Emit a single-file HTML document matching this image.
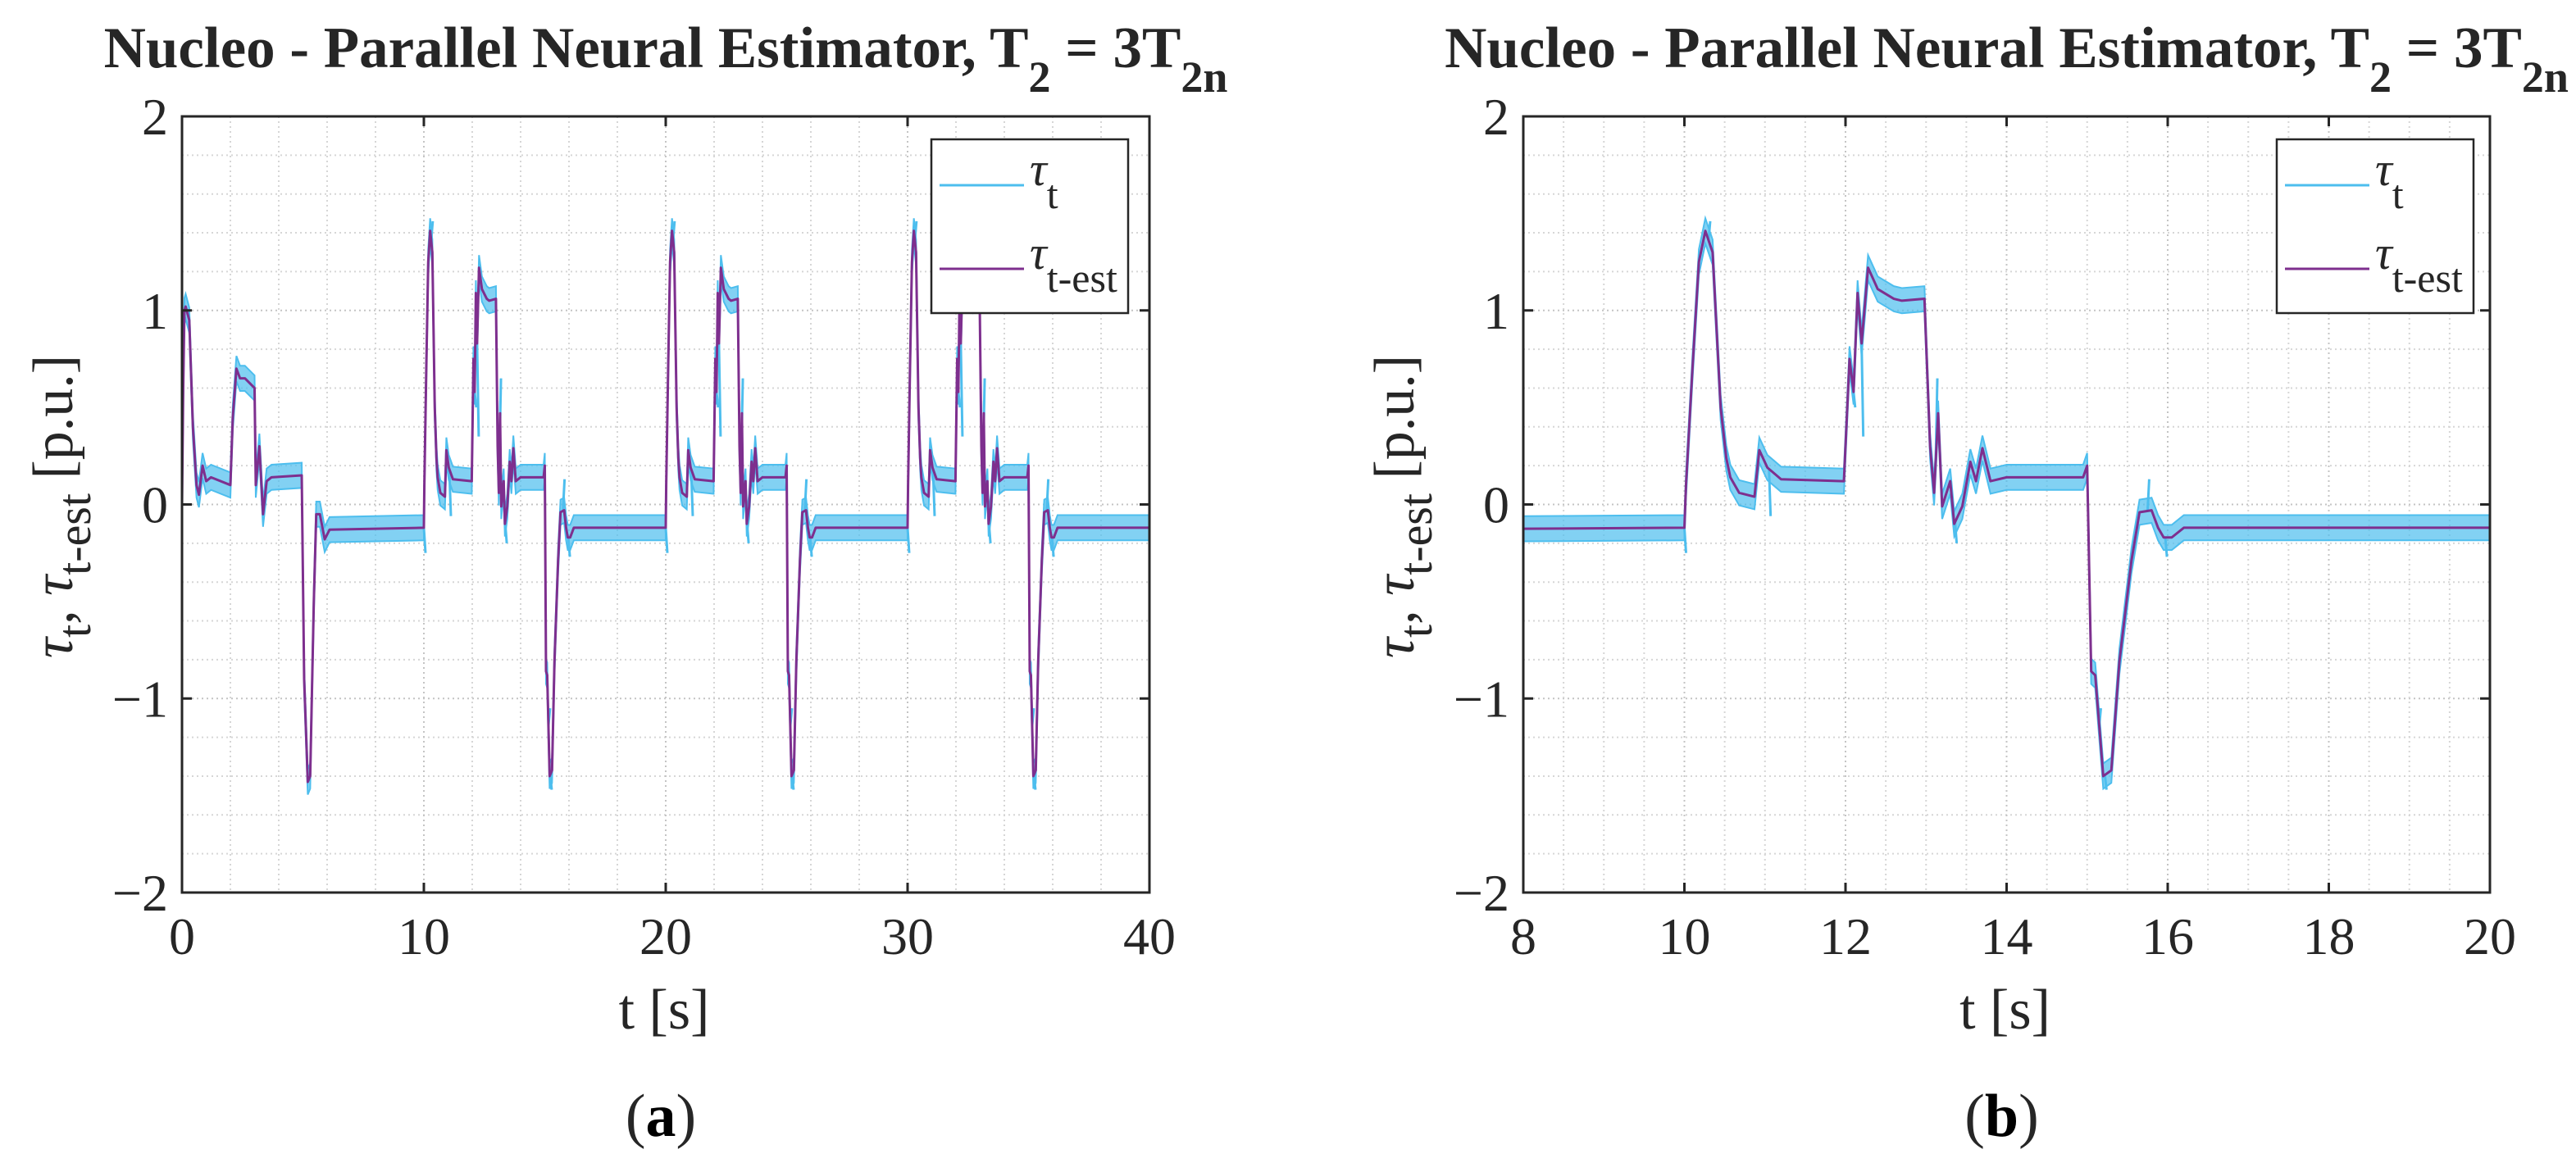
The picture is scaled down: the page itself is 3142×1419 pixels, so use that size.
<!DOCTYPE html>
<html><head><meta charset="utf-8">
<style>
html,body{margin:0;padding:0;background:#fff;}
svg{display:block;}
text{font-family:"Liberation Serif",serif;fill:#262626;}
</style></head>
<body>
<svg id="fig" width="3142" height="1419" viewBox="0 0 3142 1419" xmlns="http://www.w3.org/2000/svg">
<defs>
<clipPath id="clipA"><rect x="222" y="142" width="1180" height="947"/></clipPath>
<clipPath id="clipB"><rect x="1858" y="142" width="1179" height="947"/></clipPath>
</defs>
<g id="panelA"></g>
<g id="panelB"></g>
</svg>
<script>
// ---- data ----
// first cycle (0..10 s)
const firstCycleT = [0,0.05,0.1,0.15,0.3,0.45,0.6,0.7,0.85,1.0,1.2,2.0,2.1,2.25,2.4,2.6,3.0,3.05,3.2,3.35,3.5,3.7,4.95,5.05,5.2,5.3,5.45,5.55,5.7,5.9,6.1,10.0];
const firstCycleV = [0,0.6,1.0,1.02,0.95,0.4,0.1,0.05,0.2,0.12,0.14,0.1,0.45,0.7,0.65,0.65,0.6,0.1,0.3,-0.05,0.12,0.14,0.15,-0.9,-1.43,-1.4,-0.5,-0.05,-0.05,-0.18,-0.13,-0.12];
// repeating cycle offsets (s after cycle start) and estimated torque values
const cycleT = [0,0.02,0.1,0.18,0.26,0.35,0.45,0.52,0.57,0.68,0.87,0.93,1.03,1.2,1.98,2.05,2.1,2.15,2.2,2.28,2.4,2.6,2.7,2.98,3.05,3.1,3.15,3.2,3.3,3.35,3.45,3.55,3.62,3.7,3.8,4.0,4.95,5.0,5.05,5.1,5.2,5.3,5.4,5.55,5.65,5.8,5.88,5.95,6.05,6.2,10.0];
const cycleV = [-0.12,0.1,0.7,1.25,1.41,1.3,0.5,0.24,0.14,0.06,0.04,0.28,0.19,0.13,0.12,0.75,0.58,1.09,0.83,1.22,1.11,1.06,1.05,1.06,0.3,0.06,0.47,-0.01,0.12,-0.1,-0.01,0.22,0.12,0.29,0.12,0.14,0.14,0.2,-0.86,-0.88,-1.4,-1.37,-0.81,-0.29,-0.04,-0.03,-0.12,-0.17,-0.17,-0.12,-0.12];
const cycleStarts = [10,20,30];
// measured torque extra spikes (offset within cycle, value)
const spikeT = [0.0,0.3,1.05,2.1,2.2,3.12,3.36,5.15,5.22,5.75,5.97];
const spikeV = [-0.25,1.46,-0.06,0.5,0.35,0.65,-0.2,-1.05,-1.47,0.13,-0.27];
const noiseAmp = 0.065;
const yTicks = [-2,-1,0,1,2];
const yTickLabels = ["\u22122","\u22121","0","1","2"];
const xTicksA = [0,10,20,30,40];
const xTicksB = [8,10,12,14,16,18,20];

const NS = "http://www.w3.org/2000/svg";
function mk(tag, attrs, parent){const e=document.createElementNS(NS,tag);for(const k in attrs)e.setAttribute(k,attrs[k]);if(parent)parent.appendChild(e);return e;}

const estT=[],estV=[];
firstCycleT.forEach((t,i)=>{estT.push(t);estV.push(firstCycleV[i]);});
cycleStarts.forEach(s=>cycleT.forEach((t,i)=>{estT.push(s+t);estV.push(cycleV[i]);}));
const spT=[],spV=[];
cycleStarts.forEach(s=>spikeT.forEach((t,i)=>{spT.push(s+t);spV.push(spikeV[i]);}));

function interp(t){for(let i=1;i<estT.length;i++){if(t<=estT[i]){const a=estT[i-1],b=estT[i];const f=b>a?(t-a)/(b-a):1;return estV[i-1]+f*(estV[i]-estV[i-1]);}}return estV[estV.length-1];}

function panel(gid, clip, L, T, W, H, xmin, xmax, xTicks, xMinorStep, legX, letter){
  const g=document.getElementById(gid);
  const X=t=>L+(t-xmin)/(xmax-xmin)*W;
  const Y=v=>T+(2-v)/4*H;
  const grid=mk('g',{},g);
  
  
  for(let v=-2;v<=2.0001;v+=0.2){const y=Y(v);mk('line',{x1:L,x2:L+W,y1:y,y2:y,stroke:Math.abs(v-Math.round(v))<1e-6?'#c4c4c4':'#d6d6d6','stroke-width':2,'stroke-dasharray':'2,4'},grid);}
  for(let t=xmin;t<=xmax+1e-6;t+=xMinorStep){const x=X(t);mk('line',{x1:x,x2:x,y1:T,y2:T+H,stroke:xTicks.some(k=>Math.abs(k-t)<1e-6)?'#c4c4c4':'#d6d6d6','stroke-width':2,'stroke-dasharray':'2,4'},grid);}
  const sg=mk('g',{'clip-path':`url(#${clip})`},g);
  const up=[],dn=[];
  estT.forEach((t,i)=>{up.push(X(t)+','+Y(estV[i]+noiseAmp));});
  for(let i=estT.length-1;i>=0;i--)dn.push(X(estT[i])+','+Y(estV[i]-noiseAmp));
  const band=mk('polygon',{points:up.concat(dn).join(' '),fill:'#4DBEEE','fill-opacity':0.7,stroke:'#4DBEEE','stroke-width':2},sg);
  
  
  spT.forEach((t,i)=>{
    const s=mk('line',{x1:X(t),x2:X(t)+2,y1:Y(interp(t)),y2:Y(spV[i]),stroke:'#4DBEEE','stroke-width':3},sg);
    
    
  });
  const est=mk('polyline',{points:estT.map((t,i)=>X(t)+','+Y(estV[i])).join(' '),fill:'none',stroke:'#7E2F8E','stroke-width':3,'stroke-linejoin':'round'},sg);
  
  
  const ax=mk('g',{},g);
  
  
  mk('rect',{x:L,y:T,width:W,height:H,fill:'none',stroke:'#262626','stroke-width':3},ax);
  yTicks.forEach((v,i)=>{const y=Y(v);
    mk('line',{x1:L,x2:L+12,y1:y,y2:y,stroke:'#262626','stroke-width':3},ax);
    mk('line',{x1:L+W-12,x2:L+W,y1:y,y2:y,stroke:'#262626','stroke-width':3},ax);
    const tx=mk('text',{x:L-17,y:y+22,'text-anchor':'end','font-size':64},ax);tx.textContent=yTickLabels[i];
    
    
  });
  xTicks.forEach(t=>{const x=X(t);
    mk('line',{x1:x,x2:x,y1:T+H-12,y2:T+H,stroke:'#262626','stroke-width':3},ax);
    mk('line',{x1:x,x2:x,y1:T,y2:T+12,stroke:'#262626','stroke-width':3},ax);
    const tx=mk('text',{x:x,y:1164,'text-anchor':'middle','font-size':64},ax);tx.textContent=String(t);
    
    
  });
  const lg=mk('g',{},g);
  
  
  mk('rect',{x:legX,y:170,width:240,height:212,fill:'#fff',stroke:'#262626','stroke-width':2.5},lg);
  mk('line',{x1:legX+10,x2:legX+113,y1:226,y2:226,stroke:'#4DBEEE','stroke-width':3},lg);
  mk('line',{x1:legX+10,x2:legX+113,y1:328,y2:328,stroke:'#7E2F8E','stroke-width':3},lg);
  let t1=mk('text',{x:legX+120,y:226,'font-size':58,fill:'#000'},lg);
  t1.innerHTML='<tspan font-style="italic">τ</tspan><tspan dy="28" font-size="50">t</tspan>';
  
  
  let t2=mk('text',{x:legX+120,y:328,'font-size':58,fill:'#000'},lg);
  t2.innerHTML='<tspan font-style="italic">τ</tspan><tspan dy="28" font-size="50">t-est</tspan>';
  
  
  const cx=L+W/2;
  const ti=mk('text',{x:cx,y:82,'text-anchor':'middle','font-size':71,'font-weight':'bold',fill:'#000'},g);
  ti.innerHTML='Nucleo - Parallel Neural Estimator, T<tspan dy="30" font-size="54">2</tspan><tspan dy="-30"> = 3T</tspan><tspan dy="30" font-size="54">2n</tspan>';
  
  
  const xl=mk('text',{x:cx-2,y:1255,'text-anchor':'middle','font-size':70},g);xl.textContent='t [s]';
  
  
  const yl=mk('text',{x:0,y:0,'text-anchor':'middle','font-size':70,transform:`translate(${L-134},618) rotate(-90)`},g);
  yl.innerHTML='<tspan font-style="italic">τ</tspan><tspan dy="22" font-size="58">t</tspan><tspan dy="-22">, </tspan><tspan font-style="italic">τ</tspan><tspan dy="22" font-size="58">t-est</tspan><tspan dy="-22"> [p.u.]</tspan>';
  
  
  const pl=mk('text',{x:cx-6,y:1386,'text-anchor':'middle','font-size':74},g);
  pl.innerHTML='(<tspan font-weight="bold" fill="#000">'+letter+'</tspan>)';
  
  
}
panel('panelA','clipA',222,142,1180,947,0,40,xTicksA,2,1136,'a');
panel('panelB','clipB',1858,142,1179,947,8,20,xTicksB,0.5,2777,'b');
</script>
</body></html>
